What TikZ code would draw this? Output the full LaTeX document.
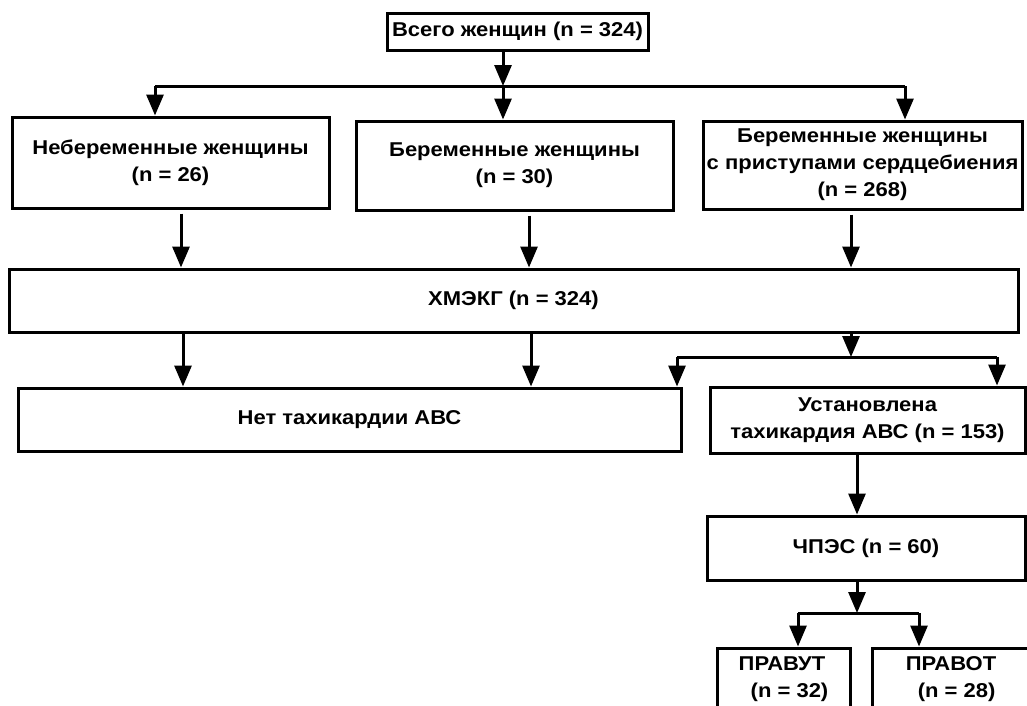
\documentclass[tikz,border=0pt]{standalone}
\usepackage{fontspec}
\setmainfont{Liberation Sans}[FakeStretch=1.1]
\usetikzlibrary{arrows.meta}

\begin{document}
\begin{tikzpicture}[x=1pt, y=-1pt,
    box/.style={draw, line width=3pt, rectangle, inner sep=0pt, align=center,
                font=\bfseries\fontsize{20}{27}\selectfont},
    ln/.style={line width=3pt},
    arr/.style={line width=3pt, -{Triangle[length=21pt, width=17pt]}}]
    \useasboundingbox (0,0) rectangle (1027,705);
    \clip (0,0) rectangle (1027,705);
    \fill[white] (0,0) rectangle (1027,705);

    % boxes
    \node[box, minimum width=261, minimum height=37] (total) at (517.5,31.5) {Всего женщин (n = 324)};
    \node[box, minimum width=317, minimum height=91] (nonpreg) at (170.5,162.5) {Небеременные женщины\\(n = 26)};
    \node[box, minimum width=317, minimum height=89] (preg) at (514.5,165.5) {Беременные женщины\\(n = 30)};
    \node[box, minimum width=319, minimum height=88] (palp) at (862.5,165) {Беременные женщины\\с приступами сердцебиения\\(n = 268)};
    \node[box, minimum width=1009, minimum height=63] (holter) at (513.5,300.5) {ХМЭКГ (n = 324)};
    \node[box, minimum width=663, minimum height=63] (notach) at (349.5,419.5) {Нет тахикардии АВС};
    \node[box, minimum width=315, minimum height=66] (tach) at (867.5,420) {Установлена\\тахикардия АВС (n = 153)};
    \node[box, minimum width=318, minimum height=64] (tees) at (866,548) {ЧПЭС (n = 60)};
    \node[box, minimum width=133, minimum height=62, align=left] (ortho) at (783.5,679) {ПРАВУТ\\\hspace*{12pt}(n = 32)};
    \node[box, minimum width=158, minimum height=62, align=left] (anti) at (951,679) {ПРАВОТ\\\hspace*{12pt}(n = 28)};

    % branch points
    \coordinate (s1) at (503,86);
    \coordinate (s1l) at (155,86);
    \coordinate (s1r) at (905,86);
    \coordinate (s2) at (851,357);
    \coordinate (s2l) at (677,357);
    \coordinate (s2r) at (997,357);
    \coordinate (s3) at (857,613);
    \coordinate (s3l) at (798,613);
    \coordinate (s3r) at (919,613);

    % connectors
    \draw[arr] (total.south -| s1) -- (s1);
    \draw[ln] (s1l) -- (s1r);
    \draw[arr] (s1l) -- (s1l |- nonpreg.north);
    \draw[arr] (s1) -- (s1 |- preg.north);
    \draw[arr] (s1r) -- (s1r |- palp.north);

    \draw[arr, shorten <=4pt] (181,0 |- nonpreg.south) -- (181,0 |- holter.north);
    \draw[arr, shorten <=4pt] (529,0 |- preg.south) -- (529,0 |- holter.north);
    \draw[arr, shorten <=4pt] (851,0 |- palp.south) -- (851,0 |- holter.north);

    \draw[arr] (183,0 |- holter.south) -- (183,0 |- notach.north);
    \draw[arr] (531,0 |- holter.south) -- (531,0 |- notach.north);
    \draw[arr] (s2 |- holter.south) -- (s2);
    \draw[ln] (s2l) -- (s2r);
    \draw[arr] (s2l) -- (s2l |- notach.north);
    \draw[arr] (s2r) -- (s2r |- tach.north);

    \draw[arr] (857,0 |- tach.south) -- (857,0 |- tees.north);
    \draw[arr] (s3 |- tees.south) -- (s3);
    \draw[ln] (s3l) -- (s3r);
    \draw[arr] (s3l) -- (s3l |- ortho.north);
    \draw[arr] (s3r) -- (s3r |- anti.north);
\end{tikzpicture}
\end{document}
